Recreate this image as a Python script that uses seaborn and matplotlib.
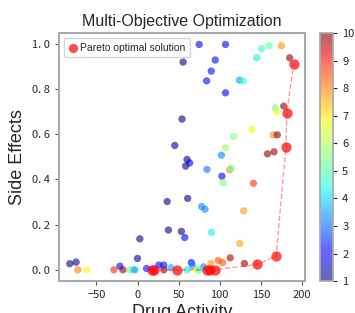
import numpy as np
import pandas as pd
import seaborn as sns
import matplotlib.pyplot as plt
from matplotlib.colors import Normalize
from matplotlib.cm import ScalarMappable

# all candidates: drug activity, side effects, colour value
activity = [75, 107, 151, 160, 175, 145, 185, 55.4, 94.5, 89.7, 84, 124, 128.5, 107,
            167.7, 169.7, 177.8, 54.1, 139, 117, 165, 170, 45.3, 107, 102, 158, 166,
            60.2, 63.4, 58.6, 84.4, 112, 114, 102.6, 104, 141, 36, 61, 78, 82, 129,
            90, 37.6, 53.3, 57.4, 2.8, 124.4, 112.7, 0, -82.4, -74.7, -21.4, -72.7,
            -61.8, -28.7, -17.8, -9.3, -5.3, -3.2, 11, 25.9, 32, 32, 40.8, 60, 65.5,
            67, 71.5, 80.4, 89.3, 98.2, 103.4, 130, 75.2]
side_effects = [0.997, 0.997, 0.978, 0.991, 0.991, 0.938, 0.938, 0.919, 0.928, 0.879,
                0.836, 0.839, 0.835, 0.783, 0.717, 0.699, 0.724, 0.667, 0.621, 0.589,
                0.597, 0.597, 0.550, 0.540, 0.507, 0.513, 0.522, 0.488, 0.473, 0.459,
                0.444, 0.442, 0.450, 0.414, 0.385, 0.383, 0.302, 0.316, 0.280, 0.268,
                0.261, 0.165, 0.176, 0.170, 0.143, 0.137, 0.117, 0.053, 0.050, 0.027,
                0.034, 0.016, 0.0, 0.0, 0.0, 0.0, 0.0, 0.0, 0.0, 0.006, 0.021, 0.021,
                0.0, 0.009, 0.0, 0.032, 0.018, 0.0, 0.013, 0.028, 0.041, 0.032, 0.028, 0.0]
score = [1.8, 2.0, 4.6, 5.2, 7.8, 4.3, 9.8, 1.0, 2.2, 2.2, 2.2, 3.5, 4.6, 2.0,
         5.3, 6.8, 9.8, 1.0, 6.8, 5.5, 7.9, 9.8, 1.0, 5.8, 3.3, 9.8, 9.8,
         1.0, 2.0, 1.0, 3.2, 7.8, 5.3, 2.0, 5.3, 8.7, 1.0, 1.0, 3.3, 3.3, 7.7,
         4.3, 1.0, 1.0, 2.0, 1.0, 7.6, 9.6, 1.0, 1.0, 1.0, 2.0, 8.0,
         6.7, 8.8, 9.8, 5.2, 5.0, 3.5, 2.0, 2.0, 2.0, 9.8, 3.5, 4.3, 2.0,
         3.3, 6.7, 3.3, 7.8, 8.4, 8.4, 9.8, 4.6]

# pareto front
pareto_activity = [17, 20, 48, 84.5, 88.5, 94, 145, 168.5, 180.5, 181.5, 190]
pareto_side = [0.0, 0.0, 0.0, 0.0, 0.0, 0.0, 0.024, 0.060, 0.543, 0.695, 0.909]

df = pd.DataFrame({"activity": activity, "side": side_effects, "score": score})
pf = pd.DataFrame({"activity": pareto_activity, "side": pareto_side})

sns.set_theme(style="white")
plt.rcParams['font.family'] = ['Noto Sans CJK JP', 'DejaVu Sans']
label_font = ['Liberation Sans', 'DejaVu Sans']

jet = plt.get_cmap("jet")

fig = plt.figure(figsize=(3.55, 3.13), dpi=100)
ax = fig.add_axes([0.165, 0.102, 0.694, 0.792])
cax = fig.add_axes([0.901, 0.102, 0.0375, 0.792])

sns.scatterplot(data=df, x="activity", y="side", hue="score", palette=jet,
                hue_norm=(1, 10), s=28, alpha=0.6, linewidth=0, legend=False, ax=ax)
sns.lineplot(data=pf, x="activity", y="side", color="red", alpha=0.4,
             linestyle="--", linewidth=1, ax=ax, sort=True, estimator=None)
sns.scatterplot(data=pf, x="activity", y="side", color="red", s=55, alpha=0.7,
                linewidth=0, ax=ax, label="Pareto optimal solution")

ax.set_xticks([-50, 0, 50, 100, 150, 200])
ax.set_yticks([0.0, 0.2, 0.4, 0.6, 0.8, 1.0])
ax.set_yticklabels(["0. 0", "0. 2", "0. 4", "0. 6", "0. 8", "1. 0"])
ax.tick_params(labelsize=8, length=3, width=0.8, color="#555555", bottom=True, left=True)
for sp in ax.spines.values():
    sp.set_color("#aaaaaa")
    sp.set_linewidth(1.5)
ax.set_title("Multi-Objective Optimization", fontsize=11.5, pad=5, family=label_font)
ax.set_xlabel("Drug Activity", fontsize=13, labelpad=3, family=label_font)
ax.set_ylabel("Side Effects", fontsize=13, family=label_font)
ax.legend(loc="upper left", prop={"family": label_font, "size": 7.5},
          handletextpad=0.2, borderpad=0.4, markerscale=0.9, handlelength=1.0)

sm = ScalarMappable(norm=Normalize(1, 10), cmap=jet)
cb = fig.colorbar(sm, cax=cax, alpha=0.6)
cb.set_ticks(range(1, 11))
cb.ax.tick_params(labelsize=8, length=3, width=0.8)
cb.outline.set_edgecolor("#aaaaaa")
cb.set_label("Generation", fontsize=12, labelpad=12, family=label_font)

fig.savefig("out.png", dpi=100)
